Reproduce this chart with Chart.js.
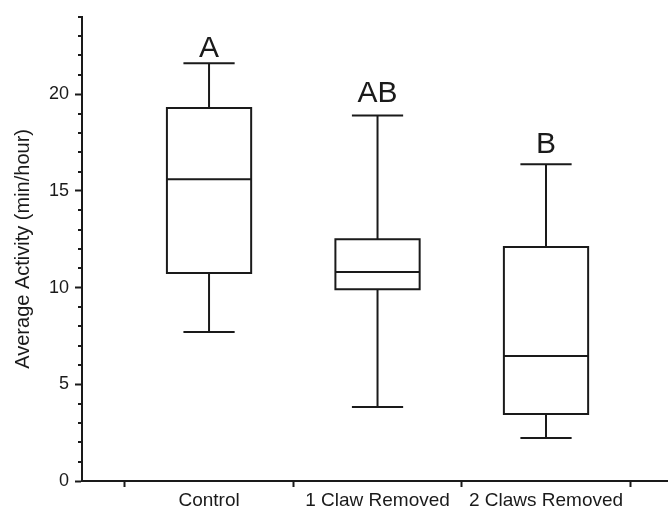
<!DOCTYPE html>
<html><head><meta charset="utf-8">
<script src="https://cdn.jsdelivr.net/npm/chart.js@4.4.1/dist/chart.umd.min.js"></script>
<style>html,body{margin:0;padding:0;background:#fff}</style>
</head><body>
<canvas id="c" width="668" height="509"></canvas>
<script>
// ---- data ----
const categories = ['Control', '1 Claw Removed', '2 Claws Removed'];
const whiskerMin = [7.7, 3.82, 2.22];
const q1 = [10.75, 9.92, 3.46];
const median = [15.6, 10.8, 6.46];
const q3 = [19.28, 12.5, 12.1];
const whiskerMax = [21.6, 18.9, 16.38];
const groupLetters = ['A', 'AB', 'B'];
const letterLevels = [21.9, 19.6, 16.95];
const yMajorTicks = [0, 5, 10, 15, 20];
const yAxisMax = 24;
const yTitle = 'Average Activity (min/hour)';

// ---- styling constants ----
const INK = '#1a1a1a';
const BOX_HALF = 0.25;
const CAP_HALF = 0.152;
const FONT = "'Liberation Sans', Arial, Helvetica, sans-serif";
Chart.defaults.font.family = FONT;
Chart.defaults.color = INK;

function withBreaks(segs) {
  const out = [];
  segs.forEach((s, k) => { if (k) out.push({x: s[0].x, y: null}); s.forEach(p => out.push(p)); });
  return out;
}
const boxes = withBreaks(categories.map((c, i) => [
  {x: i - BOX_HALF, y: q1[i]}, {x: i + BOX_HALF, y: q1[i]},
  {x: i + BOX_HALF, y: q3[i]}, {x: i - BOX_HALF, y: q3[i]}, {x: i - BOX_HALF, y: q1[i]}
]));
const medians = withBreaks(categories.map((c, i) => [
  {x: i - BOX_HALF, y: median[i]}, {x: i + BOX_HALF, y: median[i]}
]));
const whiskers = withBreaks(categories.flatMap((c, i) => [
  [{x: i, y: q3[i]}, {x: i, y: whiskerMax[i]}],
  [{x: i, y: q1[i]}, {x: i, y: whiskerMin[i]}]
]));
const caps = withBreaks(categories.flatMap((c, i) => [
  [{x: i - CAP_HALF, y: whiskerMax[i]}, {x: i + CAP_HALF, y: whiskerMax[i]}],
  [{x: i - CAP_HALF, y: whiskerMin[i]}, {x: i + CAP_HALF, y: whiskerMin[i]}]
]));

const lineDs = (data, cap) => ({
  data, showLine: true, spanGaps: false, borderColor: INK, borderWidth: 2,
  pointRadius: 0, tension: 0, borderCapStyle: cap || 'butt', borderJoinStyle: 'miter'
});

const extras = {
  id: 'extras',
  afterDatasetsDraw(chart) {
    const {ctx, scales: {x, y}} = chart;
    ctx.save();
    // minor y ticks
    ctx.strokeStyle = INK; ctx.lineWidth = 2;
    for (let v = 0; v <= yAxisMax; v++) {
      if (yMajorTicks.includes(v)) continue;
      const py = Math.round(y.getPixelForValue(v));
      ctx.beginPath(); ctx.moveTo(x.left - 4, py); ctx.lineTo(x.left, py); ctx.stroke();
    }
    // group letters
    ctx.fillStyle = INK;
    ctx.font = '30px ' + FONT;
    ctx.textAlign = 'center'; ctx.textBaseline = 'alphabetic';
    groupLetters.forEach((t, i) => ctx.fillText(t, x.getPixelForValue(i), y.getPixelForValue(letterLevels[i])));
    ctx.restore();
  }
};

new Chart(document.getElementById('c'), {
  type: 'scatter',
  data: { datasets: [lineDs(boxes, 'square'), lineDs(medians), lineDs(whiskers), lineDs(caps)] },
  options: {
    responsive: false, animation: false, devicePixelRatio: 1,
    layout: { padding: { top: 16, right: 0, left: 0, bottom: 0 } },
    plugins: { legend: { display: false }, tooltip: { enabled: false } },
    scales: {
      x: {
        type: 'linear', min: -0.754, max: 2.724,
        afterBuildTicks: s => { s.ticks = [-0.5, 0, 0.5, 1, 1.5, 2, 2.5].map(v => ({value: v})); },
        afterFit: s => { s.height = 28; },
        ticks: {
          autoSkip: false, maxRotation: 0, minRotation: 0, padding: 2,
          font: { size: 19 }, color: INK,
          callback: v => Number.isInteger(v) ? categories[v] : ''
        },
        grid: {
          drawOnChartArea: false, drawTicks: true, tickLength: 6, tickWidth: 2,
          tickColor: c => (c.tick && Number.isInteger(c.tick.value)) ? 'rgba(0,0,0,0)' : INK
        },
        border: { display: true, color: INK, width: 2 }
      },
      y: {
        type: 'linear', min: 0, max: yAxisMax,
        afterBuildTicks: s => { s.ticks = yMajorTicks.map(v => ({value: v})); },
        afterFit: s => { s.width = 82; },
        ticks: { padding: 6, font: { size: 18 }, color: INK, callback: v => String(v) },
        grid: { drawOnChartArea: false, drawTicks: true, tickLength: 7, tickWidth: 2, tickColor: INK },
        border: { display: true, color: INK, width: 2 },
        title: { display: true, text: yTitle, font: { size: 20 }, color: INK, padding: { top: 11, bottom: 0 } }
      }
    }
  },
  plugins: [extras]
});
</script>
</body></html>
